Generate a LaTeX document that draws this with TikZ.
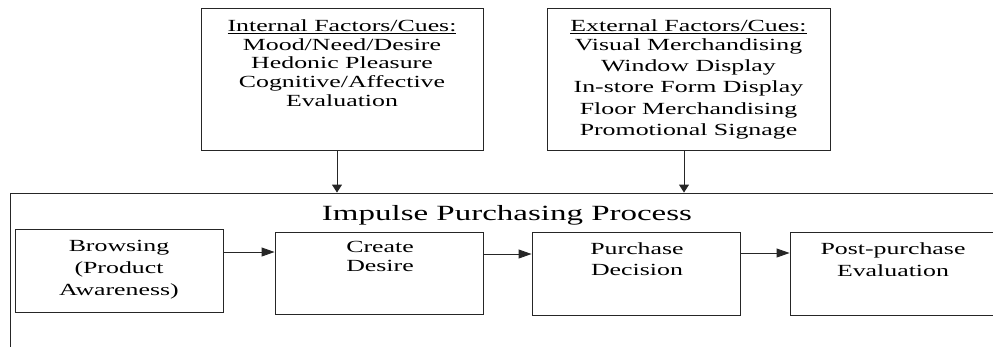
\documentclass[tikz,border=0pt]{standalone}
\usepackage{fontspec}
\setmainfont{Liberation Serif}[FakeStretch=1.52]
\usetikzlibrary{arrows.meta}
\begin{document}
\begin{tikzpicture}[x=1pt,y=-1pt,
  frame/.style={rectangle, draw=black!85, line width=0.9pt, inner sep=0pt},
  stage/.style={frame, minimum width=208pt, minimum height=83pt},
  cue/.style={inner sep=0pt, align=center, anchor=north, text=black,
              font=\fontsize{17}{#1}\selectfont},
  feed/.style={draw=black!85, line width=0.9pt, -{Triangle[length=8pt,width=10pt]}},
  flow/.style={draw=black!85, line width=0.9pt, -{Triangle[length=13pt,width=9pt]}}]

\useasboundingbox (0,0) rectangle (993,346);
\clip (0,0) rectangle (993,346);

% factor boxes
\node[frame, minimum width=282pt, minimum height=142pt] (int) at (342,79) {};
\node[cue=18.6] (inttext) at (342,18.5)
  {\strut\underline{Internal Factors/Cues:}\\ Mood/Need/Desire\\ Hedonic Pleasure\\
   Cognitive/Affective\\ Evaluation};

\node[frame, minimum width=283pt, minimum height=142pt] (ext) at (688.5,79) {};
\node[cue=21.3] (exttext) at (688.5,16.8)
  {\strut\underline{External Factors/Cues:}\\[-3pt] Visual Merchandising\\ Window Display\\
   In-store Form Display\\ Floor Merchandising\\ Promotional Signage};

% process frame (runs past the right and bottom edges)
\node[frame, minimum width=1010pt, minimum height=200pt] (proc) at (515,293) {};
\node[inner sep=0pt, anchor=base, font=\fontsize{21.7}{26}\selectfont] (title) at (507,220)
  {Impulse Purchasing Process};

% stages
\node[stage] (b) at (119,270.5) {};
\node[cue=21.7] (btext) at (119,236.3) {\strut Browsing\\ (Product\\ Awareness)};

\node[stage, minimum height=82pt] (c) at (379,273) {};
\node[cue=19] (ctext) at (380,239.4) {\strut Create\\ Desire};

\node[stage] (p) at (636,273.5) {};
\node[cue=21.7] (ptext) at (637,238.8) {\strut Purchase\\ Decision};

\node[stage] (e) at (894,273.5) {};
\node[cue=22] (etext) at (893,238.6) {\strut Post-purchase\\ Evaluation};

% connectors
\draw[feed] ([xshift=-5pt]int.south) -- ([xshift=-5pt]int.south |- proc.north);
\draw[feed] ([xshift=-4.5pt]ext.south) -- ([xshift=-4.5pt]ext.south |- proc.north);
\draw[flow] (b.east |- 0,252) -- (c.west |- 0,252);
\draw[flow] (c.east |- 0,254) -- (p.west |- 0,254);
\draw[flow] (p.east |- 0,253) -- (e.west |- 0,253);
\end{tikzpicture}
\end{document}
